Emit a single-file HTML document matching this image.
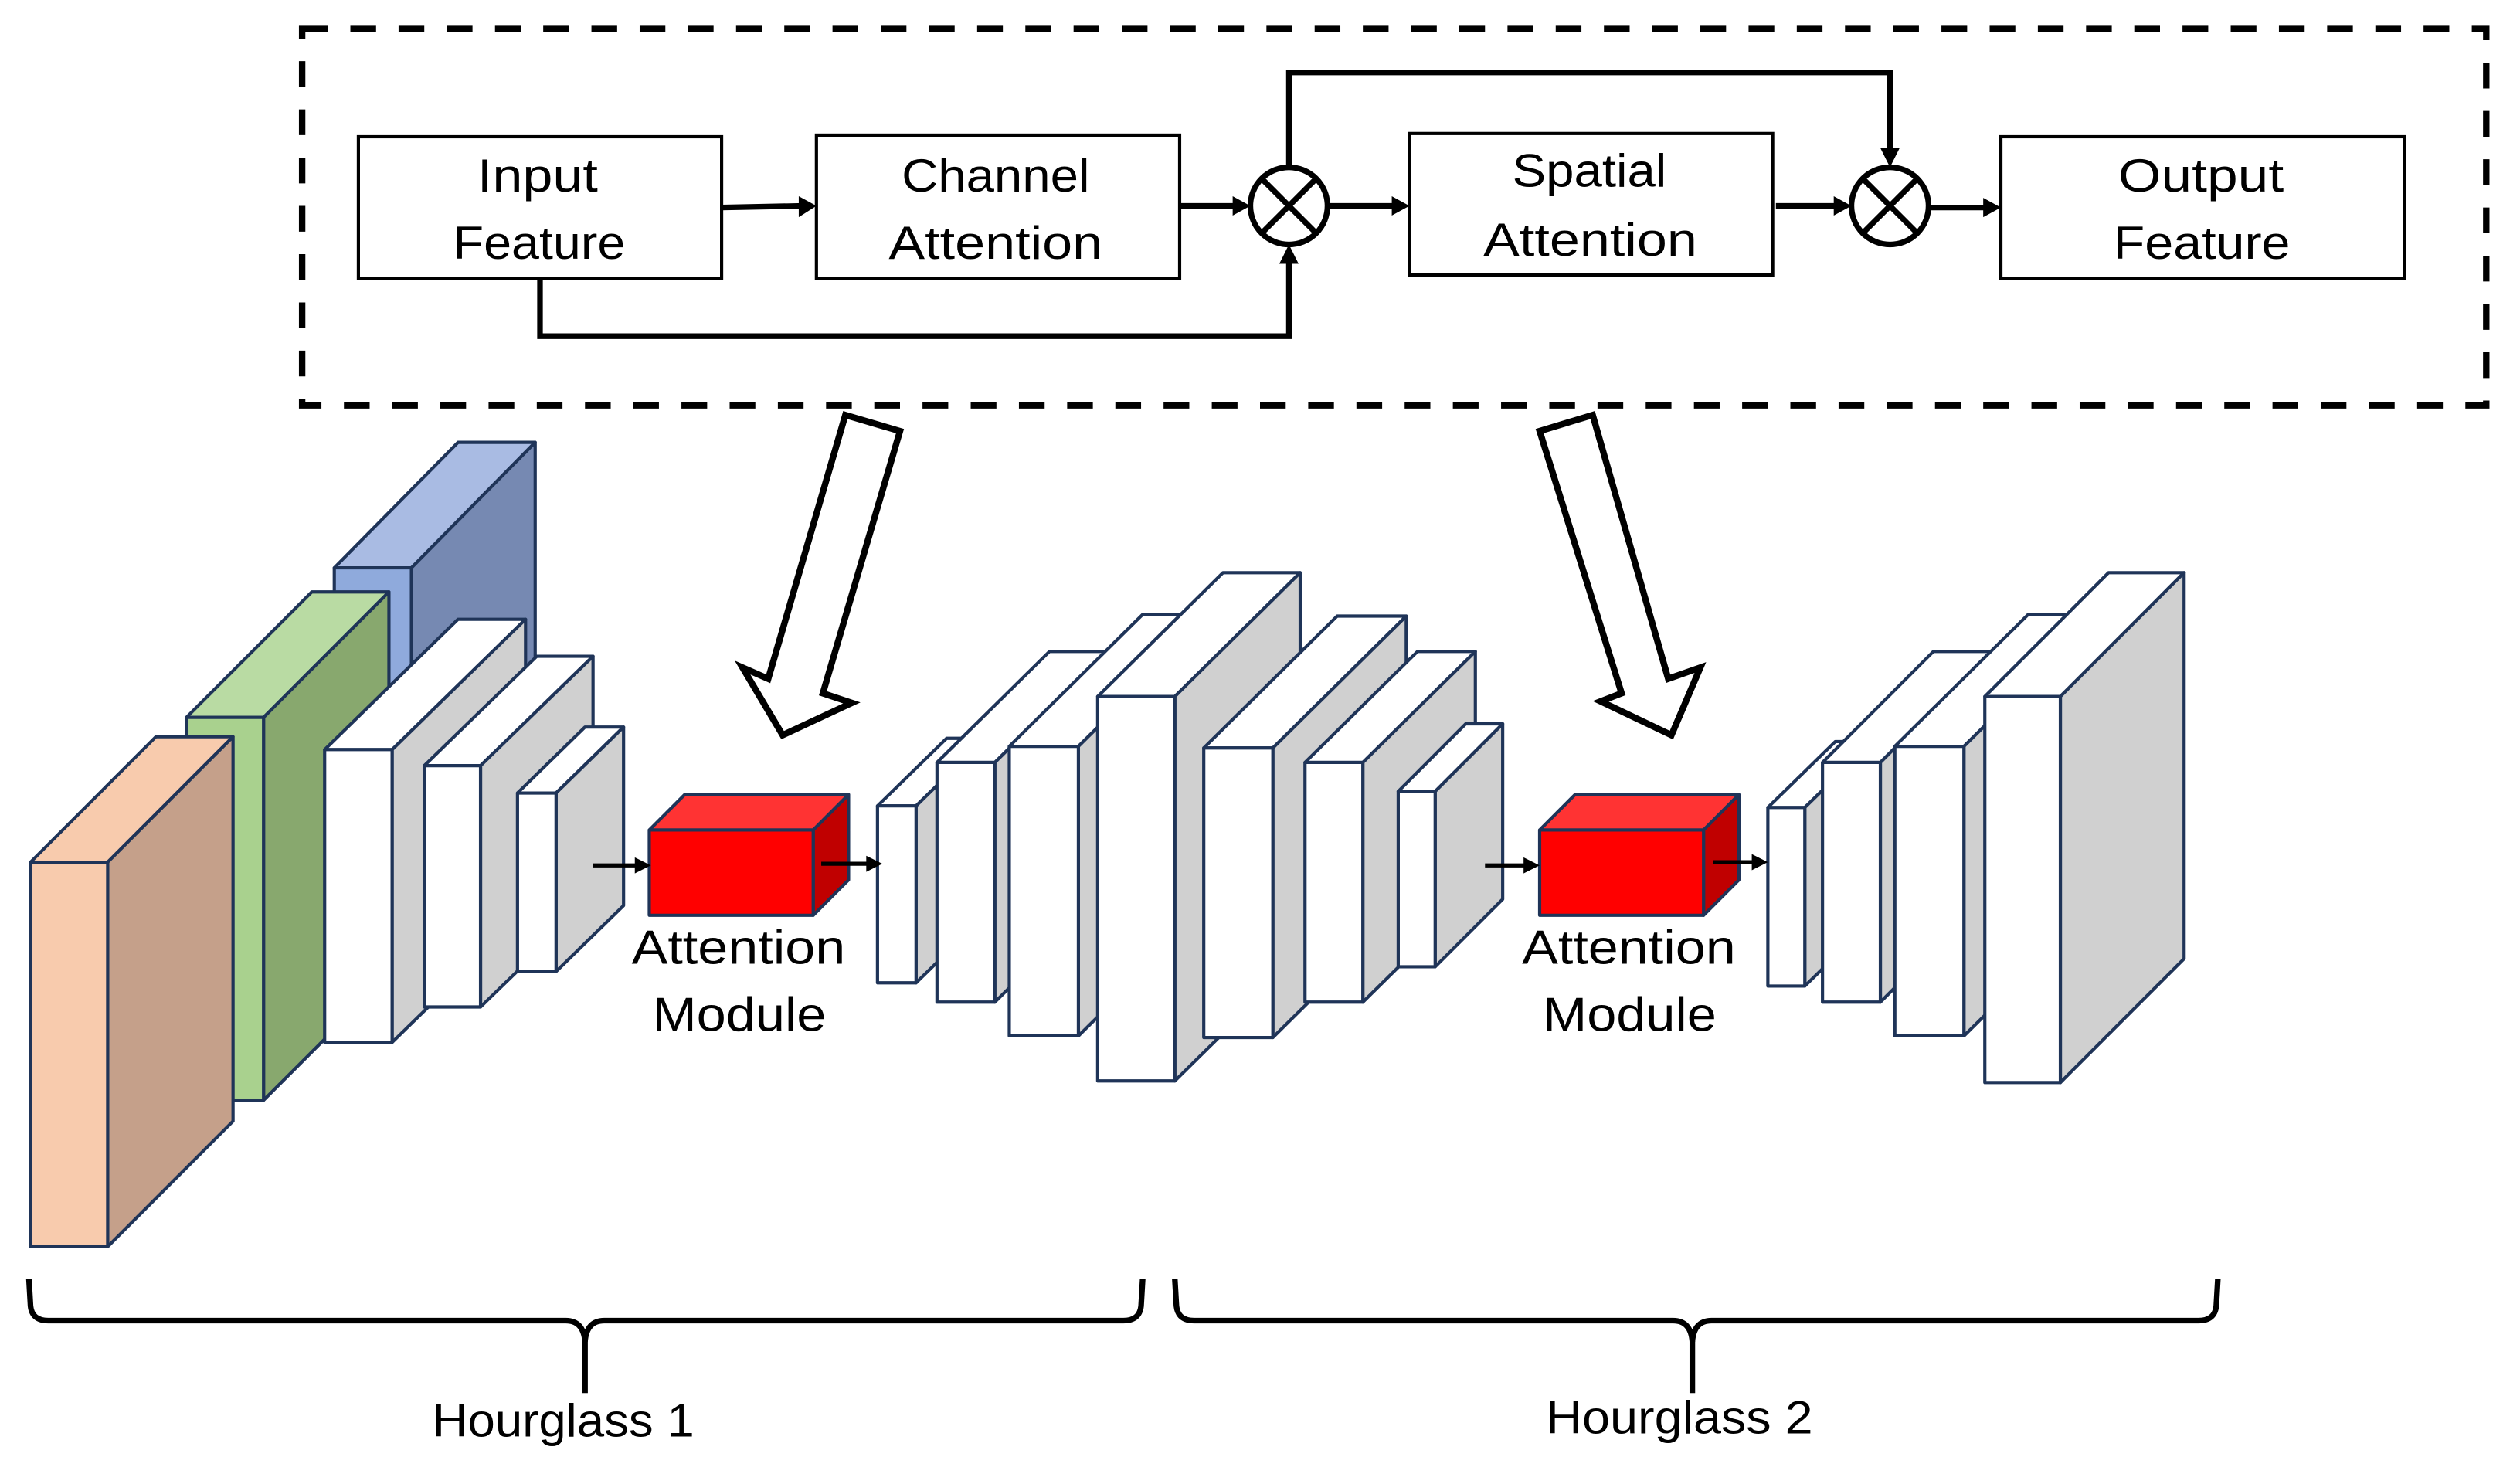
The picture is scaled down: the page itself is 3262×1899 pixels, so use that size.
<!DOCTYPE html>
<html><head><meta charset="utf-8"><style>
html,body{margin:0;padding:0;background:#fff;}
svg{display:block;}
text{font-family:"Liberation Sans",sans-serif;fill:#000;}
</style></head><body>
<svg width="3262" height="1899" viewBox="0 0 1568 912" preserveAspectRatio="none" xmlns="http://www.w3.org/2000/svg">
<rect x="0" y="0" width="1568" height="912" fill="#fff"/>
<!-- dashed frame -->
<rect x="188" y="18" width="1359" height="234" fill="none" stroke="#000" stroke-width="4" stroke-dasharray="16 14"/>

<g fill="#fff" stroke="#000" stroke-width="2">
<rect x="223" y="85" width="226" height="88"/>
<rect x="508" y="84" width="226" height="89"/>
<rect x="877" y="83" width="226" height="88"/>
<rect x="1245" y="85" width="251" height="88"/>
</g>
<g font-size="29">
<text x="297" y="119" textLength="75" lengthAdjust="spacingAndGlyphs">Input</text>
<text x="282" y="161" textLength="107" lengthAdjust="spacingAndGlyphs">Feature</text>
<text x="561" y="119" textLength="117" lengthAdjust="spacingAndGlyphs">Channel</text>
<text x="553" y="161" textLength="133" lengthAdjust="spacingAndGlyphs">Attention</text>
<text x="941" y="116" textLength="96" lengthAdjust="spacingAndGlyphs">Spatial</text>
<text x="923" y="159" textLength="133" lengthAdjust="spacingAndGlyphs">Attention</text>
<text x="1318" y="119" textLength="103" lengthAdjust="spacingAndGlyphs">Output</text>
<text x="1315" y="161" textLength="110" lengthAdjust="spacingAndGlyphs">Feature</text>
</g>

<!-- otimes -->
<g fill="none" stroke="#000" stroke-width="3.5">
<circle cx="802" cy="128" r="24"/>
<line x1="785" y1="111" x2="819" y2="145"/><line x1="819" y1="111" x2="785" y2="145"/>
<circle cx="1176" cy="128" r="24"/>
<line x1="1159" y1="111" x2="1193" y2="145"/><line x1="1193" y1="111" x2="1159" y2="145"/>
</g>
<!-- connectors -->
<g fill="none" stroke="#000" stroke-width="3.5">
<line x1="449" y1="129" x2="499" y2="128"/>
<line x1="734" y1="128" x2="769" y2="128"/>
<line x1="826" y1="128" x2="868" y2="128"/>
<line x1="1105" y1="128" x2="1143" y2="128"/>
<line x1="1200" y1="129" x2="1236" y2="129"/>
<polyline points="336,173 336,209 802,209 802,162"/>
<polyline points="802,104 802,45 1176,45 1176,94"/>
</g>
<g fill="#000">
<polygon points="508,128 497,122 497,135"/>
<polygon points="778,128 767,122 767,134"/>
<polygon points="877,128 866,122 866,134"/>
<polygon points="1152,128 1141,122 1141,134"/>
<polygon points="1245,129 1234,123 1234,135"/>
<polygon points="802,152 796,164 808,164"/>
<polygon points="1176,104 1170,92 1182,92"/>
</g>

<!-- hollow arrows -->
<g fill="#fff" stroke="#000" stroke-width="4" stroke-linejoin="miter">
<polygon points="526,258 560,268 512,431 530,437 487,457 462,415 478,422"/>
<polygon points="991,258 958,268 1009,431 996,436 1040,457 1058,415 1038,422"/>
</g>

<!-- left blocks -->
<g stroke="#1f3458" stroke-width="2" stroke-linejoin="round">
<polygon points="208,353 285,275 333,275 256,353" fill="#a9bbe3"/>
<polygon points="256,353 333,275 333,410 256,488" fill="#7689b2"/>
<rect x="208" y="353" width="48" height="135" fill="#8faadc"/>
<polygon points="116,446 194,368 242,368 164,446" fill="#b9dba3"/>
<polygon points="164,446 242,368 242,606 164,684" fill="#88a86e"/>
<rect x="116" y="446" width="48" height="238" fill="#a9d18e"/>
<polygon points="19,536 97,458 145,458 67,536" fill="#f8cbad"/>
<polygon points="67,536 145,458 145,697 67,775" fill="#c5a08a"/>
<rect x="19" y="536" width="48" height="239" fill="#f8cbad"/>
</g>

<g stroke="#1f3458" stroke-width="2" stroke-linejoin="round">
<polygon points="202,466 285,385 327,385 244,466" fill="#fff"/>
<polygon points="244,466 327,385 327,567 244,648" fill="#d0d0d0"/>
<rect x="202" y="466" width="42" height="182" fill="#fff"/>
<polygon points="264,476 334,408 369,408 299,476" fill="#fff"/>
<polygon points="299,476 369,408 369,558 299,626" fill="#d0d0d0"/>
<rect x="264" y="476" width="35" height="150" fill="#fff"/>
<polygon points="322,493 364,452 388,452 346,493" fill="#fff"/>
<polygon points="346,493 388,452 388,563 346,604" fill="#d0d0d0"/>
<rect x="322" y="493" width="24" height="111" fill="#fff"/>

<polygon points="404,516 426,494 528,494 506,516" fill="#ff3333"/>
<polygon points="506,516 528,494 528,547 506,569" fill="#c00000"/>
<rect x="404" y="516" width="102" height="53" fill="#ff0000"/>
<polygon points="958,516 980,494 1082,494 1060,516" fill="#ff3333"/>
<polygon points="1060,516 1082,494 1082,547 1060,569" fill="#c00000"/>
<rect x="958" y="516" width="102" height="53" fill="#ff0000"/>

<polygon points="546,501 589,459 613,459 570,501" fill="#fff"/>
<polygon points="570,501 613,459 613,569 570,611" fill="#d0d0d0"/>
<rect x="546" y="501" width="24" height="110" fill="#fff"/>
<polygon points="583,474 653,405 689,405 619,474" fill="#fff"/>
<polygon points="619,474 689,405 689,554 619,623" fill="#d0d0d0"/>
<rect x="583" y="474" width="36" height="149" fill="#fff"/>
<polygon points="628,464 711,382 754,382 671,464" fill="#fff"/>
<polygon points="671,464 754,382 754,562 671,644" fill="#d0d0d0"/>
<rect x="628" y="464" width="43" height="180" fill="#fff"/>
<polygon points="683,433 761,356 809,356 731,433" fill="#fff"/>
<polygon points="731,433 809,356 809,595 731,672" fill="#d0d0d0"/>
<rect x="683" y="433" width="48" height="239" fill="#fff"/>
<polygon points="749,465 832,383 875,383 792,465" fill="#fff"/>
<polygon points="792,465 875,383 875,563 792,645" fill="#d0d0d0"/>
<rect x="749" y="465" width="43" height="180" fill="#fff"/>
<polygon points="812,474 882,405 918,405 848,474" fill="#fff"/>
<polygon points="848,474 918,405 918,554 848,623" fill="#d0d0d0"/>
<rect x="812" y="474" width="36" height="149" fill="#fff"/>
<polygon points="870,492 912,450 935,450 893,492" fill="#fff"/>
<polygon points="893,492 935,450 935,559 893,601" fill="#d0d0d0"/>
<rect x="870" y="492" width="23" height="109" fill="#fff"/>

<polygon points="1100,502 1142,461 1165,461 1123,502" fill="#fff"/>
<polygon points="1123,502 1165,461 1165,572 1123,613" fill="#d0d0d0"/>
<rect x="1100" y="502" width="23" height="111" fill="#fff"/>
<polygon points="1134,474 1203,405 1239,405 1170,474" fill="#fff"/>
<polygon points="1170,474 1239,405 1239,554 1170,623" fill="#d0d0d0"/>
<rect x="1134" y="474" width="36" height="149" fill="#fff"/>
<polygon points="1179,464 1262,382 1305,382 1222,464" fill="#fff"/>
<polygon points="1222,464 1305,382 1305,562 1222,644" fill="#d0d0d0"/>
<rect x="1179" y="464" width="43" height="180" fill="#fff"/>
<polygon points="1235,433 1312,356 1359,356 1282,433" fill="#fff"/>
<polygon points="1282,433 1359,356 1359,596 1282,673" fill="#d0d0d0"/>
<rect x="1235" y="433" width="47" height="240" fill="#fff"/>
</g>

<g stroke="#000" stroke-width="2.5">
<line x1="369" y1="538" x2="397" y2="538"/>
<line x1="511" y1="537" x2="541" y2="537"/>
<line x1="924" y1="538" x2="950" y2="538"/>
<line x1="1066" y1="536" x2="1092" y2="536"/>
</g>
<g fill="#000">
<polygon points="405,538 395,533 395,543"/>
<polygon points="549,537 539,532 539,542"/>
<polygon points="958,538 948,533 948,543"/>
<polygon points="1100,536 1090,531 1090,541"/>
</g>

<g font-size="30">
<text x="393" y="599" textLength="133" lengthAdjust="spacingAndGlyphs">Attention</text>
<text x="406" y="641" textLength="108" lengthAdjust="spacingAndGlyphs">Module</text>
<text x="947" y="599" textLength="133" lengthAdjust="spacingAndGlyphs">Attention</text>
<text x="960" y="641" textLength="108" lengthAdjust="spacingAndGlyphs">Module</text>
</g>

<g fill="none" stroke="#000" stroke-width="3.5" stroke-linejoin="round">
<path d="M18,795 L19,812 Q20,821 30,821 L352,821 Q363,821 364,834 L364,866"/>
<path d="M711,795 L710,812 Q709,821 699,821 L376,821 Q365,821 364,834"/>
<path d="M731,795 L732,812 Q733,821 743,821 L1041,821 Q1052,821 1053,834 L1053,866"/>
<path d="M1380,795 L1379,812 Q1378,821 1368,821 L1065,821 Q1054,821 1053,834"/>
</g>
<g font-size="29">
<text x="269" y="893" textLength="163" lengthAdjust="spacingAndGlyphs">Hourglass 1</text>
<text x="962" y="891" textLength="166" lengthAdjust="spacingAndGlyphs">Hourglass 2</text>
</g>
</svg>
</body></html>
